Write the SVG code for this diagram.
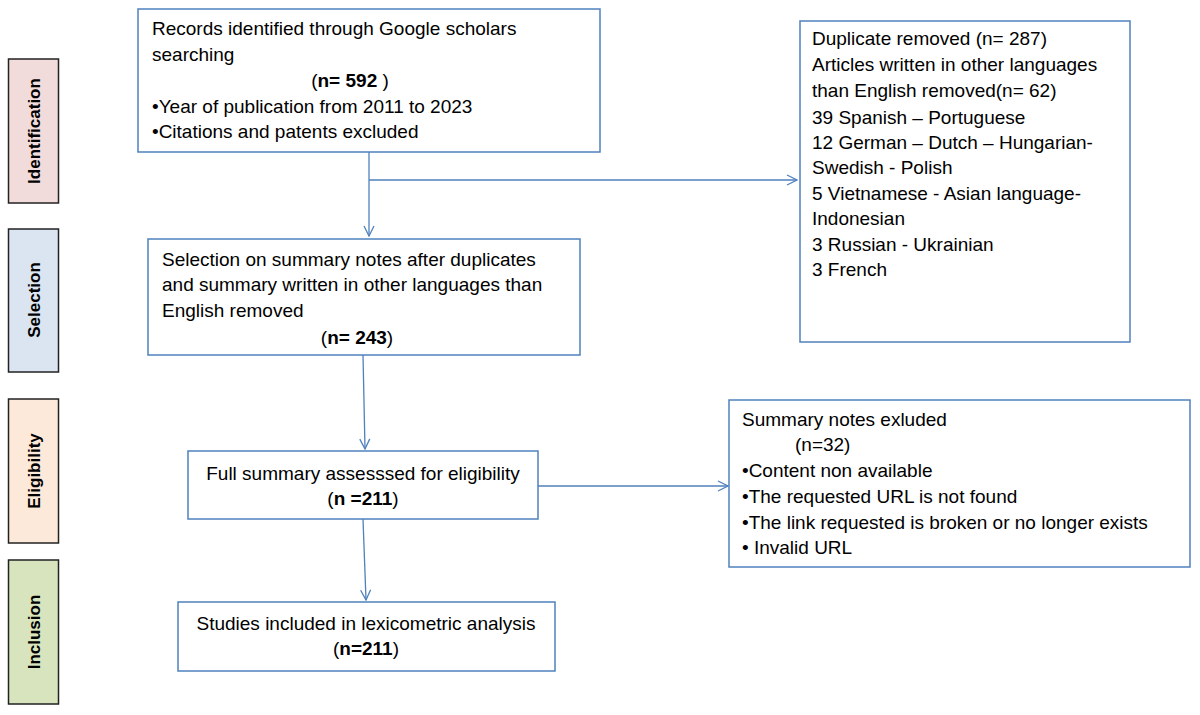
<svg xmlns="http://www.w3.org/2000/svg" width="1200" height="715" viewBox="0 0 1200 715">
<defs>
<marker id="arr" viewBox="0 0 12 12" refX="11" refY="6" markerWidth="12" markerHeight="12" markerUnits="userSpaceOnUse" orient="auto">
<path d="M1,1 L11,6 L1,11" fill="none" stroke="#4f81bd" stroke-width="1.3"/>
</marker>
</defs>
<style>
.box{fill:#fff;stroke:#4f81bd;stroke-width:1.5}
.side{stroke:#222;stroke-width:1.5}
.t{font-family:"Liberation Sans",Arial,sans-serif;font-size:19px;fill:#000}
.b{font-weight:bold}
.st{font-family:"Liberation Sans",Arial,sans-serif;font-size:17px;font-weight:bold;fill:#000}
.c{fill:none;stroke:#4f81bd;stroke-width:1.3}
</style>
<rect width="1200" height="715" fill="#fff"/>

<g id="side-identification">
<rect class="side" x="8.5" y="59" width="50" height="144" fill="#f2dcdb"/>
<text class="st" transform="translate(40,131) rotate(-90)" text-anchor="middle">Identification</text>
</g>
<g id="side-selection">
<rect class="side" x="8.5" y="229" width="50" height="143" fill="#dbe5f1"/>
<text class="st" transform="translate(40,300) rotate(-90)" text-anchor="middle">Selection</text>
</g>
<g id="side-eligibility">
<rect class="side" x="8.5" y="399" width="50" height="144" fill="#fde9d9"/>
<text class="st" transform="translate(40,471) rotate(-90)" text-anchor="middle">Eligibility</text>
</g>
<g id="side-inclusion">
<rect class="side" x="8.5" y="560" width="50" height="144" fill="#d7e4bd"/>
<text class="st" transform="translate(40,632) rotate(-90)" text-anchor="middle">Inclusion</text>
</g>

<g id="connectors">
<path class="c" d="M369,152 V236" marker-end="url(#arr)"/>
<path class="c" d="M369,180 H797" marker-end="url(#arr)"/>
<path class="c" d="M363,355 L365,449" marker-end="url(#arr)"/>
<path class="c" d="M538,486 H728" marker-end="url(#arr)"/>
<path class="c" d="M363,519 L366,600" marker-end="url(#arr)"/>
</g>

<g id="node-records">
<rect class="box" x="138" y="9" width="462" height="143"/>
<text class="t" x="152" y="35">Records identified through Google scholars</text>
<text class="t" x="152" y="61">searching</text>
<text class="t" x="350" y="87" text-anchor="middle">(<tspan class="b">n= 592 </tspan>)</text>
<text class="t" x="152" y="113">•Year of publication from 2011 to 2023</text>
<text class="t" x="152" y="138">•Citations and patents excluded</text>
</g>

<g id="node-duplicates">
<rect class="box" x="800" y="21" width="330" height="321"/>
<text class="t" x="812" y="45">Duplicate removed (n= 287)</text>
<text class="t" x="812" y="71">Articles written in other languages</text>
<text class="t" x="812" y="97">than English removed(n= 62)</text>
<text class="t" x="812" y="124">39 Spanish – Portuguese</text>
<text class="t" x="812" y="149">12 German – Dutch – Hungarian-</text>
<text class="t" x="812" y="174">Swedish - Polish</text>
<text class="t" x="812" y="200">5 Vietnamese - Asian language-</text>
<text class="t" x="812" y="225">Indonesian</text>
<text class="t" x="812" y="251">3 Russian - Ukrainian</text>
<text class="t" x="812" y="276">3 French</text>
</g>

<g id="node-selection">
<rect class="box" x="148" y="239" width="432" height="116"/>
<text class="t" x="162" y="266">Selection on summary notes after duplicates</text>
<text class="t" x="162" y="291">and summary written in other languages than</text>
<text class="t" x="162" y="317">English removed</text>
<text class="t" x="357" y="344" text-anchor="middle">(<tspan class="b">n= 243</tspan>)</text>
</g>

<g id="node-eligibility">
<rect class="box" x="188" y="451" width="350" height="68"/>
<text class="t" x="363" y="480" text-anchor="middle">Full summary assesssed for eligibility</text>
<text class="t" x="363" y="505" text-anchor="middle">(<tspan class="b">n =211</tspan>)</text>
</g>

<g id="node-excluded">
<rect class="box" x="729" y="400" width="461" height="167"/>
<text class="t" x="742" y="426">Summary notes exluded</text>
<text class="t" x="795" y="451">(n=32)</text>
<text class="t" x="742" y="477">•Content non available</text>
<text class="t" x="742" y="503">•The requested URL is not found</text>
<text class="t" x="742" y="529">•The link requested is broken or no longer exists</text>
<text class="t" x="742" y="554">• Invalid URL</text>
</g>

<g id="node-included">
<rect class="box" x="178" y="602" width="377" height="69"/>
<text class="t" x="366" y="630" text-anchor="middle">Studies included in lexicometric analysis</text>
<text class="t" x="366" y="655" text-anchor="middle">(<tspan class="b">n=211</tspan>)</text>
</g>
</svg>
